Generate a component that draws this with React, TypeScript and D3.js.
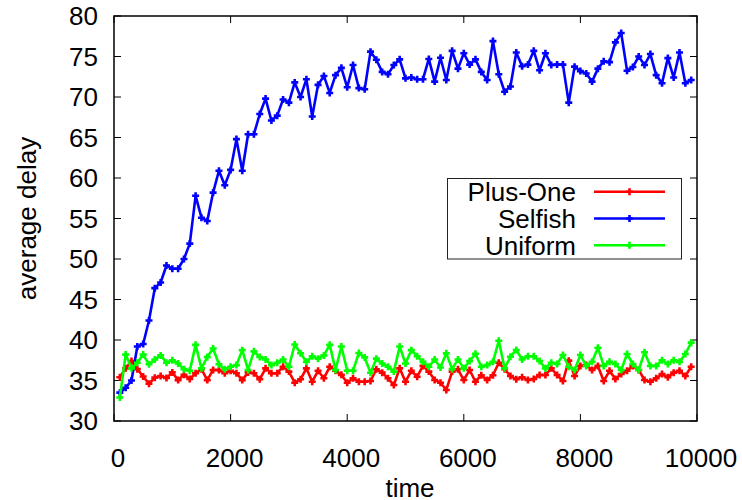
import { line, range, scaleLinear } from "d3";

// sampled every 100 time units
const times = range(100, 10000, 100);

const plusOne = [
  35.4, 36.5, 37.4, 36.4, 35.5, 34.6, 35.35, 35.55, 35.3, 36.0,
  35.05, 35.7, 35.2, 35.9, 36.4, 35.05, 36.3, 36.3, 35.9, 36.2,
  35.9, 35.05, 36.0, 35.9, 35.15, 36.5, 35.9, 35.9, 36.7, 36.1,
  34.73, 35.15, 36.5, 34.85, 36.2, 35.27, 36.7, 36.2, 35.7, 34.73,
  35.27, 34.85, 34.85, 34.94, 36.38, 35.97, 35.27, 34.44, 36.5, 34.85,
  36.2, 35.47, 36.8, 36.1, 35.06, 34.73, 33.83, 36.1, 36.38, 35.06,
  36.3, 34.85, 35.65, 35.06, 35.65, 37.2, 36.38, 35.56, 35.15, 35.4,
  35.06, 35.18, 35.68, 35.68, 36.5, 35.68, 34.94, 37.45, 35.56, 36.8,
  36.9, 36.3, 36.8, 34.94, 36.2, 35.18, 35.8, 36.2, 36.8, 36.3,
  35.06, 34.85, 35.27, 35.8, 35.4, 35.97, 36.2, 35.56, 36.7,
];

const selfish = [
  33.5, 34.1, 35.0, 39.2, 39.5, 42.4, 46.4, 47.1, 49.2, 48.8,
  48.8, 50.0, 51.9, 57.8, 55.1, 54.7, 58.2, 60.9, 59.1, 61.0,
  64.8, 60.9, 65.4, 65.4, 67.9, 69.8, 67.1, 67.7, 69.7, 69.3,
  71.8, 70.0, 72.2, 67.6, 71.5, 72.6, 70.5, 72.7, 73.6, 71.2,
  73.95, 71.1, 70.95, 75.6, 74.6, 73.1, 72.8, 73.95, 74.65, 72.3,
  72.4, 72.2, 72.2, 74.7, 71.9, 74.85, 72.1, 75.7, 73.5, 75.4,
  74.0, 74.65, 73.1, 72.1, 76.9, 72.8, 70.65, 71.3, 75.5, 73.8,
  74.0, 75.7, 73.3, 75.4, 73.95, 74.0, 74.0, 69.3, 73.75, 73.2,
  72.9, 71.9, 73.5, 74.4, 74.3, 76.75, 77.9, 73.25, 73.7, 75.0,
  73.95, 75.3, 72.7, 71.7, 74.8, 72.4, 75.5, 71.7, 72.1,
];

const uniform = [
  32.9, 38.2, 36.5, 37.2, 38.2, 37.0, 37.6, 38.1, 37.2, 37.5,
  37.1, 36.4, 36.2, 39.4, 36.5, 37.9, 38.95, 37.0, 36.4, 36.7,
  36.9, 38.75, 36.3, 38.6, 37.9, 37.6, 36.9, 37.2, 37.6, 36.7,
  39.45, 38.36, 37.3, 38.0, 37.7, 38.1, 39.4, 36.3, 39.2, 36.2,
  36.2, 38.4, 37.85, 35.95, 37.7, 37.1, 36.7, 36.1, 39.2, 37.1,
  38.75, 38.0, 37.3, 36.7, 37.6, 36.6, 38.35, 36.4, 37.6, 36.5,
  37.4, 38.3, 36.7, 36.9, 37.3, 39.9, 36.5, 37.94, 38.77, 37.6,
  38.0, 38.0, 37.4, 36.5, 37.2, 37.04, 38.15, 36.7, 36.3, 38.15,
  36.8, 37.3, 39.05, 36.8, 37.3, 37.04, 36.3, 38.27, 37.04, 36.3,
  38.48, 36.8, 36.8, 37.5, 37.04, 37.5, 37.3, 38.27, 39.67,
];

const xTicks = [0, 2000, 4000, 6000, 8000, 10000];
const yTicks = [30, 35, 40, 45, 50, 55, 60, 65, 70, 75, 80];

const series = [
  { name: "Plus-One", values: plusOne, color: "#ff0000" },
  { name: "Selfish", values: selfish, color: "#0000ff" },
  { name: "Uniform", values: uniform, color: "#00ff00" },
];

export default function App() {
  const width = 742;
  const height = 500;
  const left = 114;
  const right = 697;
  const top = 16;
  const bottom = 421;
  const font = "'Liberation Sans', Arial, Helvetica, sans-serif";
  const tickLen = 7;

  const x = scaleLinear().domain([0, 10000]).range([left, right]);
  const y = scaleLinear().domain([30, 80]).range([bottom, top]);

  const plus = (cx: number, cy: number) =>
    `M${cx - 3.5},${cy}H${cx + 3.5}M${cx},${cy - 3.5}V${cy + 3.5}`;

  const legendX = 576;
  const legendLine = [594, 665];
  const legendY0 = 191.7;
  const legendStep = 26.8;

  return (
    <svg
      width={width}
      height={height}
      style={{ position: "absolute", left: 0, top: 0, background: "#fff" }}
      fontFamily={font}
    >
      <rect width={width} height={height} fill="#fff" />

      {yTicks.map((t) => (
        <g key={t}>
          <line x1={left} x2={left + tickLen} y1={y(t)} y2={y(t)} stroke="#000" />
          <line x1={right} x2={right - tickLen} y1={y(t)} y2={y(t)} stroke="#000" />
          <text x={98} y={y(t)} dy="0.36em" textAnchor="end" fontSize={26} fill="#000">
            {t}
          </text>
        </g>
      ))}

      {xTicks.map((t) => (
        <g key={t}>
          <line x1={x(t)} x2={x(t)} y1={bottom} y2={bottom - tickLen} stroke="#000" />
          <line x1={x(t)} x2={x(t)} y1={top} y2={top + tickLen} stroke="#000" />
          <text x={x(t) + 4} y={467} textAnchor="middle" fontSize={26} fill="#000">
            {t}
          </text>
        </g>
      ))}

      {series.map((s) => {
        const path = line<number>()
          .x((_, i) => x(times[i]))
          .y((v) => y(v))(s.values);
        return (
          <g key={s.name}>
            <path d={path ?? ""} fill="none" stroke={s.color} strokeWidth={2.6} strokeLinejoin="round" />
            {s.values.map((v, i) => (
              <path key={i} d={plus(x(times[i]), y(v))} stroke={s.color} strokeWidth={2.6} />
            ))}
          </g>
        );
      })}

      <rect
        x={left}
        y={top}
        width={right - left}
        height={bottom - top}
        fill="none"
        stroke="#000"
        strokeWidth={1.5}
      />

      <rect x={447.5} y={178.5} width={234} height={80.5} fill="#fff" stroke="#222" strokeWidth={1} />
      {series.map((s, i) => {
        const ly = legendY0 + legendStep * i;
        return (
          <g key={s.name}>
            <text x={legendX} y={ly} dy="0.36em" textAnchor="end" fontSize={26} fill="#000">
              {s.name}
            </text>
            <line x1={legendLine[0]} x2={legendLine[1]} y1={ly} y2={ly} stroke={s.color} strokeWidth={2.6} />
            <path d={plus((legendLine[0] + legendLine[1]) / 2, ly)} stroke={s.color} strokeWidth={2.6} />
          </g>
        );
      })}

      <text x={410} y={497} textAnchor="middle" fontSize={26} fill="#000">
        time
      </text>
      <text
        transform={`translate(36, ${(top + bottom) / 2}) rotate(-90)`}
        textAnchor="middle"
        fontSize={26}
        fill="#000"
      >
        average delay
      </text>
    </svg>
  );
}
